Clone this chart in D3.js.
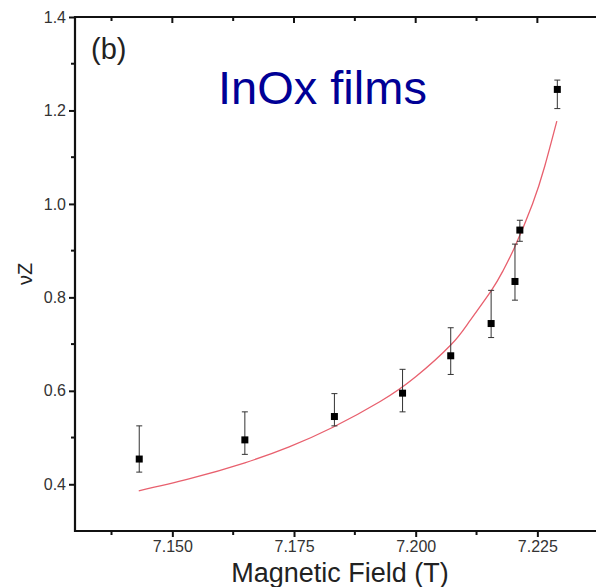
<!DOCTYPE html>
<html>
<head>
<meta charset="utf-8">
<script src="https://cdn.jsdelivr.net/npm/d3@7"></script>
<style>
  body { margin: 0; background: #fff; }
  svg { display: block; font-family: 'Liberation Sans', Arial, sans-serif; }
</style>
</head>
<body>
<div id="chart-area"></div>
<script>
// measured points (field in T, nu*z with error bar ends)
var fieldT = [7.1432, 7.1649, 7.1833, 7.1973, 7.2072, 7.2155, 7.2204, 7.2214, 7.2291]
var nuZ    = [0.454, 0.495, 0.545, 0.595, 0.675, 0.744, 0.834, 0.944, 1.245]
var errHi  = [0.525, 0.555, 0.594, 0.646, 0.735, 0.815, 0.914, 0.965, 1.265]
var errLo  = [0.426, 0.464, 0.525, 0.555, 0.635, 0.714, 0.794, 0.920, 1.204]

// fit curve
var fitB   = [7.1431, 7.1536, 7.1649, 7.1740, 7.1830, 7.1927, 7.2000, 7.2072, 7.2110, 7.2155, 7.2180, 7.2204, 7.2240, 7.2265, 7.2290]
var fitNuZ = [0.386, 0.412, 0.446, 0.480, 0.522, 0.577, 0.630, 0.698, 0.748, 0.814, 0.858, 0.909, 1.000, 1.080, 1.177]

var xTicks = [7.150, 7.175, 7.200, 7.225]
var yTicks = [0.4, 0.6, 0.8, 1.0, 1.2, 1.4]

var W = 596, H = 587
var margin = { left: 75, top: 17, bottom: 531 }

var svg = d3.select('#chart-area').append('svg')
    .attr('width', W).attr('height', H)

var x = d3.scaleLinear().domain([7.130, 7.240]).range([margin.left, margin.left + 0.110 * 4867])
var y = d3.scaleLinear().domain([0.3, 1.4]).range([margin.bottom, margin.top])

var axisColor = '#111'

// minor ticks
var xMinor = [7.1375, 7.1625, 7.1875, 7.2125, 7.2375]
var yMinor = [0.5, 0.7, 0.9, 1.1, 1.3]

// bottom axis
var xAxis = svg.append('g').attr('transform', `translate(0, ${margin.bottom})`)
    .call(d3.axisBottom(x).tickValues(xTicks).tickFormat(d3.format('.3f')).tickSize(6).tickPadding(4))
xAxis.attr('font-size', 16).attr('font-family', null)
xAxis.select('.domain').remove()
xAxis.selectAll('line').attr('stroke', axisColor).attr('stroke-width', 2)
xAxis.selectAll('text').attr('fill', '#333')
xAxis.selectAll('.minor').data(xMinor).enter().append('line')
    .attr('x1', d => x(d)).attr('x2', d => x(d)).attr('y1', 0).attr('y2', 4)
    .attr('stroke', axisColor).attr('stroke-width', 2)

// top axis, ticks inward, no labels
var topAxis = svg.append('g').attr('transform', `translate(0, ${margin.top})`)
topAxis.selectAll('.maj').data(xTicks).enter().append('line')
    .attr('x1', d => x(d)).attr('x2', d => x(d)).attr('y1', 0).attr('y2', 6)
    .attr('stroke', axisColor).attr('stroke-width', 2)
topAxis.selectAll('.min').data(xMinor).enter().append('line')
    .attr('x1', d => x(d)).attr('x2', d => x(d)).attr('y1', 0).attr('y2', 4)
    .attr('stroke', axisColor).attr('stroke-width', 2)

// left axis
var yAxis = svg.append('g').attr('transform', `translate(${margin.left}, 0)`)
    .call(d3.axisLeft(y).tickValues(yTicks).tickFormat(d3.format('.1f')).tickSize(6).tickPadding(3))
yAxis.attr('font-size', 16).attr('font-family', null)
yAxis.select('.domain').remove()
yAxis.selectAll('line').attr('stroke', axisColor).attr('stroke-width', 2)
yAxis.selectAll('text').attr('fill', '#333')
yAxis.selectAll('.minor').data(yMinor).enter().append('line')
    .attr('x1', -4).attr('x2', 0).attr('y1', d => y(d)).attr('y2', d => y(d))
    .attr('stroke', axisColor).attr('stroke-width', 2)

// frame lines
svg.append('path')
    .attr('d', `M${W + 5},${margin.top}H${margin.left}V${margin.bottom}H${W + 5}`)
    .attr('fill', 'none').attr('stroke', axisColor).attr('stroke-width', 2.2)

// fit curve
var line = d3.line().x(d => x(d[0])).y(d => y(d[1])).curve(d3.curveNatural)
svg.append('path')
    .datum(fitB.map((b, i) => [b, fitNuZ[i]]))
    .attr('d', line)
    .attr('fill', 'none').attr('stroke', '#e8606e').attr('stroke-width', 1.3)

// error bars
var pts = fieldT.map((b, i) => ({ b: b, v: nuZ[i], hi: errHi[i], lo: errLo[i] }))
var eb = svg.append('g').attr('stroke', '#333').attr('stroke-width', 1)
eb.selectAll('.bar').data(pts).enter().append('line')
    .attr('x1', d => x(d.b)).attr('x2', d => x(d.b))
    .attr('y1', d => y(d.hi)).attr('y2', d => y(d.lo))
eb.selectAll('.capHi').data(pts).enter().append('line')
    .attr('x1', d => x(d.b) - 3).attr('x2', d => x(d.b) + 3)
    .attr('y1', d => y(d.hi)).attr('y2', d => y(d.hi))
eb.selectAll('.capLo').data(pts).enter().append('line')
    .attr('x1', d => x(d.b) - 3).attr('x2', d => x(d.b) + 3)
    .attr('y1', d => y(d.lo)).attr('y2', d => y(d.lo))

svg.selectAll('.pt').data(pts).enter().append('rect')
    .attr('x', d => x(d.b) - 3.5).attr('y', d => y(d.v) - 3.5)
    .attr('width', 7).attr('height', 7).attr('fill', '#000')

// texts
svg.append('text').attr('x', 91).attr('y', 59)
    .attr('font-size', 29).attr('fill', '#222').text('(b)')

svg.append('text').attr('x', 218).attr('y', 104)
    .attr('font-size', 47).attr('fill', '#000096').text('InOx films')

svg.append('text')
    .attr('transform', 'translate(32, 274) rotate(-90)')
    .attr('text-anchor', 'middle')
    .attr('font-size', 20).attr('fill', '#222').text('νZ')

svg.append('text').attr('x', 340).attr('y', 582)
    .attr('text-anchor', 'middle')
    .attr('font-size', 27).attr('fill', '#222').text('Magnetic Field (T)')
</script>
</body>
</html>
